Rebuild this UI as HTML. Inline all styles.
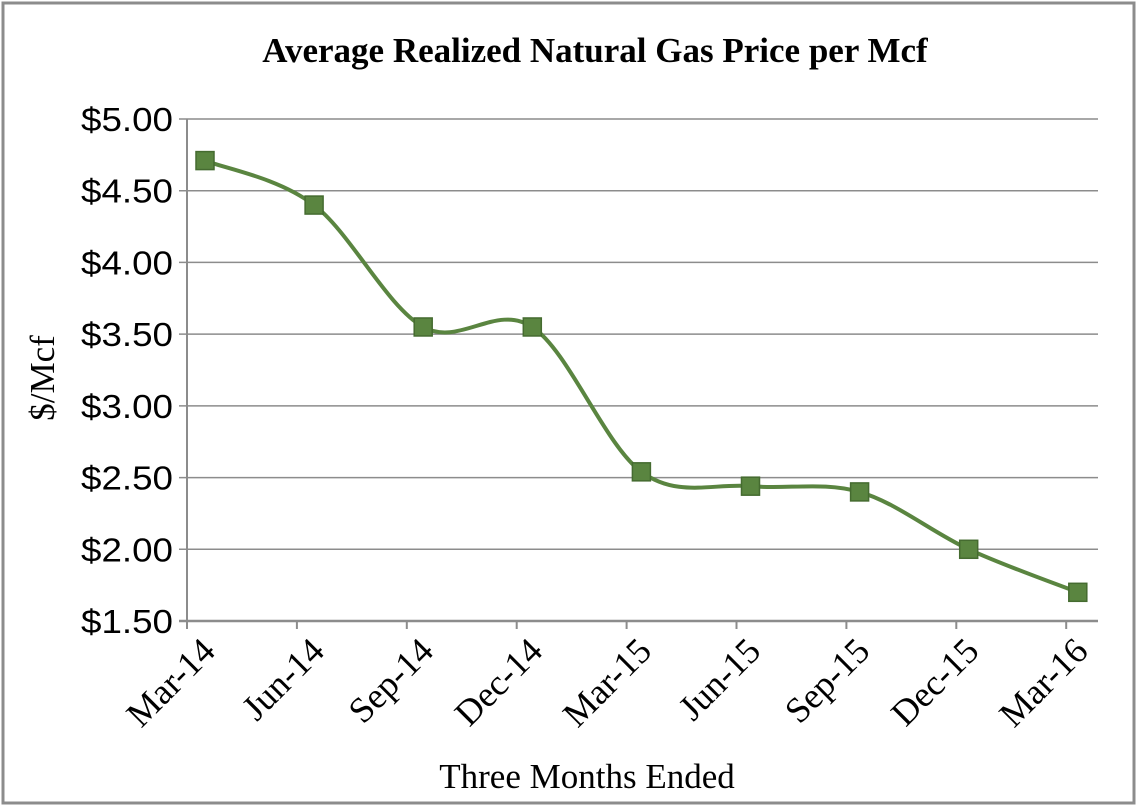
<!DOCTYPE html>
<html><head><meta charset="utf-8"><style>
html,body{margin:0;padding:0;background:#fff;}
svg{display:block;}
</style></head><body>
<svg width="1138" height="810">
<rect x="3" y="3" width="1131" height="800" fill="#fff" stroke="#8c8c8c" stroke-width="3"/>
<text x="595" y="62" text-anchor="middle" font-family="Liberation Serif, serif" font-weight="bold" font-size="35">Average Realized Natural Gas Price per Mcf</text>
<text transform="translate(54,378) rotate(-90)" text-anchor="middle" font-family="Liberation Serif, serif" font-size="35">$/Mcf</text>
<text x="587" y="788" text-anchor="middle" font-family="Liberation Serif, serif" font-size="35">Three Months Ended</text>
<g id="grid"></g><g id="series"></g>
</svg>
<script>
const categories=["Mar-14","Jun-14","Sep-14","Dec-14","Mar-15","Jun-15","Sep-15","Dec-15","Mar-16"];
const prices=[4.71,4.40,3.55,3.55,2.54,2.44,2.40,2.00,1.70];
const yTicks=[1.5,2.0,2.5,3.0,3.5,4.0,4.5,5.0];
const tickLabels=["$1.50","$2.00","$2.50","$3.00","$3.50","$4.00","$4.50","$5.00"];
const NS="http://www.w3.org/2000/svg";
const X0=187,X1=1098,Y0=621,Y1=119,yMin=1.5,yMax=5.0;
function y(v){return Y0-(v-yMin)/(yMax-yMin)*(Y0-Y1);}
function xTick(i){return X0+i*109.9;}
function xPt(i){return 205+i*109.1;}
function mk(t,a,p){const e=document.createElementNS(NS,t);for(const k in a)e.setAttribute(k,a[k]);p.appendChild(e);return e;}
const grid=document.getElementById('grid'),ser=document.getElementById('series');
yTicks.forEach((v,i)=>{
 const l=mk('line',{x1:X0-8,x2:X1,y1:y(v),y2:y(v),stroke:'#8c8c8c','stroke-width':i==0?2.5:1.5},grid);
 
 
 const t=mk('text',{x:X0-14,y:y(v)+12,'text-anchor':'end','font-family':'Liberation Sans, sans-serif','font-size':33,fill:'#000',textLength:92,lengthAdjust:'spacingAndGlyphs'},grid);
 t.textContent=tickLabels[i];
 
 
});
const ya=mk('line',{x1:X0,x2:X0,y1:Y1,y2:Y0+8,stroke:'#8c8c8c','stroke-width':2},grid);


categories.forEach((c,i)=>{
 const tx=xTick(i);
 if(i>0&&tx<X1){const tk=mk('line',{x1:tx,x2:tx,y1:Y0,y2:Y0+8,stroke:'#8c8c8c','stroke-width':2},grid);
 
 }
 const t=mk('text',{transform:`translate(${xPt(i)+12},${Y0+32}) rotate(-45)`,'text-anchor':'end','font-family':'Liberation Serif, serif','font-size':36},grid);
 t.textContent=c;
 
 
});
const pts=prices.map((v,i)=>[xPt(i),y(v)]);
let d=`M${pts[0][0]},${pts[0][1]}`;
for(let i=0;i<pts.length-1;i++){
 const p0=pts[Math.max(0,i-1)],p1=pts[i],p2=pts[i+1],p3=pts[Math.min(pts.length-1,i+2)];
 const c1=[p1[0]+(p2[0]-p0[0])/6,p1[1]+(p2[1]-p0[1])/6],c2=[p2[0]-(p3[0]-p1[0])/6,p2[1]-(p3[1]-p1[1])/6];
 d+=` C${c1[0]},${c1[1]} ${c2[0]},${c2[1]} ${p2[0]},${p2[1]}`;
}
const line=mk('path',{d:d,fill:'none',stroke:'#5a8540','stroke-width':4},ser);


pts.forEach((p,i)=>{
 const r=mk('rect',{x:p[0]-9,y:p[1]-9,width:18,height:18,fill:'#5a8540',stroke:'#456b30','stroke-width':1.5},ser);
 
 
});
</script>
</body></html>
